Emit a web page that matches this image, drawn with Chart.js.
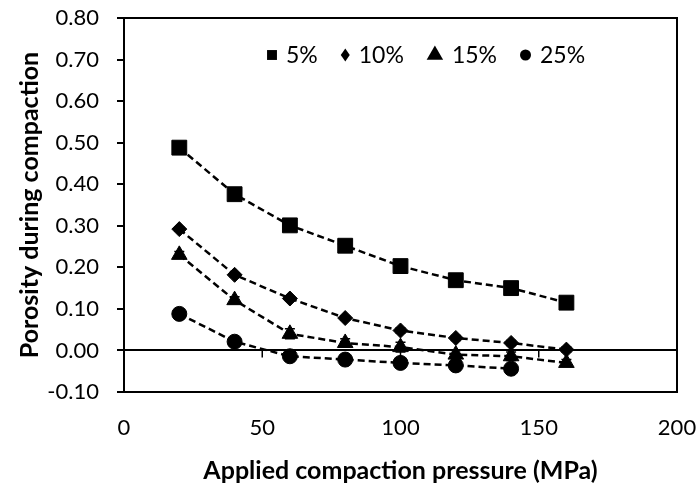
<!DOCTYPE html>
<html>
<head>
<meta charset="utf-8">
<script src="https://cdn.jsdelivr.net/npm/chart.js@4.4.0/dist/chart.umd.min.js"></script>
<style>
  html, body { margin: 0; padding: 0; background: #fff; }
</style>
</head>
<body>
<canvas id="porosityChart" width="699" height="486"></canvas>
<script>
// data
const pressure = [20, 40, 60, 80, 100, 120, 140, 160];
const porosity5 = [0.488, 0.376, 0.301, 0.252, 0.203, 0.169, 0.150, 0.115];
const porosity10 = [0.292, 0.182, 0.125, 0.078, 0.048, 0.030, 0.018, 0.002];
const porosity15 = [0.230, 0.121, 0.040, 0.018, 0.008, -0.010, -0.014, -0.030];
const porosity25 = [0.088, 0.021, -0.014, -0.022, -0.030, -0.036, -0.044];
const error5 = [0.004, 0.004, 0.004, 0.004, 0.004, 0.004, 0.004, 0.004];
const error10 = [0.005, 0.005, 0.005, 0.005, 0.006, 0.006, 0.006, 0.006];
const error15 = [0.008, 0.008, 0.012, 0.010, 0.012, 0.010, 0.010, 0.008];
const error25 = [0.004, 0.004, 0.004, 0.004, 0.004, 0.006, 0.006];
const seriesLabels = ['5%', '10%', '15%', '25%'];
const xMin = 0, xMax = 200, xStep = 50;
const yMin = -0.10, yMax = 0.80, yStep = 0.10;

const FONT = 'Lato';
Chart.defaults.font.family = FONT;
Chart.defaults.color = '#000';

const toPoints = (values) => values.map((v, i) => ({ x: pressure[i], y: v }));

const makeSeries = (label, values, errors, style, radius, legend) => ({
  label: label,
  data: toPoints(values),
  errors: errors,
  legendMarker: legend,
  borderColor: '#000',
  borderWidth: 2.5,
  borderDash: [7, 4],
  backgroundColor: '#000',
  pointStyle: style,
  pointRadius: radius,
  pointHoverRadius: radius,
  pointBackgroundColor: '#000',
  pointBorderColor: '#000',
  pointBorderWidth: 1,
  tension: 0,
  fill: false,
});

// little markers; w is the legend width for diamonds
function drawMarker(ctx, style, radius, x, y, w) {
  const opts = { pointStyle: style, radius: radius, rotation: 0, borderWidth: 0 };
  ctx.save();
  ctx.fillStyle = '#000';
  ctx.strokeStyle = '#000';
  ctx.lineWidth = 0.5;
  if (Chart.helpers && Chart.helpers.drawPointLegend) {
    Chart.helpers.drawPointLegend(ctx, opts, x, y, w);
  }
  ctx.restore();
}

const errorBars = {
  id: 'errorBars',
  beforeDatasetsDraw(chart) {
    const ctx = chart.ctx;
    const yScale = chart.scales.y;
    ctx.save();
    ctx.strokeStyle = '#000';
    ctx.lineWidth = 1.5;
    chart.data.datasets.forEach((ds, di) => {
      const meta = chart.getDatasetMeta(di);
      meta.data.forEach((pt, i) => {
        const e = ds.errors[i];
        if (!e) return;
        const v = ds.data[i].y;
        const top = yScale.getPixelForValue(v + e);
        const bot = yScale.getPixelForValue(v - e);
        ctx.beginPath();
        ctx.moveTo(pt.x, top); ctx.lineTo(pt.x, bot);
        ctx.moveTo(pt.x - 5, top); ctx.lineTo(pt.x + 5, top);
        ctx.moveTo(pt.x - 5, bot); ctx.lineTo(pt.x + 5, bot);
        ctx.stroke();
      });
    });
    ctx.restore();
  }
};

const frameAndLegend = {
  id: 'frameAndLegend',
  afterDraw(chart) {
    const ctx = chart.ctx;
    const area = chart.chartArea;
    const xScale = chart.scales.x;
    const yScale = chart.scales.y;
    ctx.save();
    // box around the plot
    ctx.strokeStyle = '#000';
    ctx.lineWidth = 2;
    ctx.strokeRect(area.left, area.top, area.right - area.left, area.bottom - area.top);
    // tick marks hanging below the zero line
    const y0 = yScale.getPixelForValue(0);
    ctx.lineWidth = 1.5;
    xScale.ticks.forEach(t => {
      const px = xScale.getPixelForValue(t.value);
      ctx.beginPath();
      ctx.moveTo(px, y0);
      ctx.lineTo(px, y0 + 7);
      ctx.stroke();
    });
    // legend inside the plot
    ctx.font = '23px ' + FONT;
    ctx.textBaseline = 'middle';
    ctx.fillStyle = '#000';
    let cursor = area.left + 143;
    const ly = area.top + 37;
    chart.data.datasets.forEach(ds => {
      const m = ds.legendMarker;
      drawMarker(ctx, ds.pointStyle, m.r, cursor + m.hw, ly, m.w);
      const tx = cursor + 2 * m.hw + 9;
      ctx.fillText(ds.label, tx, ly + 1);
      cursor = tx + ctx.measureText(ds.label).width + 23;
    });
    ctx.restore();
  }
};

new Chart(document.getElementById('porosityChart'), {
  type: 'line',
  data: {
    datasets: [
      makeSeries(seriesLabels[0], porosity5, error5, 'rect', 10.5, { r: 7, hw: 5 }),
      makeSeries(seriesLabels[1], porosity10, error10, 'rectRot', 7.5, { r: 6.5, hw: 4.5, w: 9 }),
      makeSeries(seriesLabels[2], porosity15, error15, 'triangle', 9, { r: 9.5, hw: 8 }),
      makeSeries(seriesLabels[3], porosity25, error25, 'circle', 7.5, { r: 5.5, hw: 5.5 }),
    ],
  },
  options: {
    responsive: false,
    animation: false,
    layout: { autoPadding: false, padding: { top: 18, right: 22, left: 0, bottom: 0 } },
    plugins: {
      legend: { display: false },
      tooltip: { enabled: false },
    },
    scales: {
      x: {
        type: 'linear',
        min: xMin,
        max: xMax,
        ticks: { stepSize: xStep, padding: 23, maxRotation: 0, color: '#000', font: { size: 22 } },
        grid: { display: false, drawTicks: false },
        border: { display: true, color: '#000', width: 2 },
        title: {
          display: true,
          text: 'Applied compaction pressure (MPa)',
          color: '#000',
          font: { size: 25, weight: 'bold' },
          padding: { top: 0, bottom: 0 },
        },
        afterFit: (scale) => {
          scale.height = 94;
          scale.paddingLeft = 0;
          scale.paddingRight = 0;
        },
      },
      y: {
        min: yMin,
        max: yMax,
        ticks: {
          stepSize: yStep,
          padding: 18,
          color: '#000',
          font: { size: 22 },
          callback: (v) => (Math.abs(v) < 1e-9 ? '0.00' : Number(v).toFixed(2)),
        },
        grid: {
          color: (c) => (c.tick && Math.abs(c.tick.value) < 1e-9 ? '#000' : 'rgba(0,0,0,0)'),
          lineWidth: 2,
          tickColor: '#000',
          tickLength: 7,
          tickWidth: 2,
        },
        border: { display: true, color: '#000', width: 2 },
        title: {
          display: true,
          text: 'Porosity during compaction',
          color: '#000',
          font: { size: 25, weight: 'bold' },
          padding: { top: 15, bottom: 0 },
        },
        afterFit: (scale) => {
          scale.width = 124;
          scale.paddingTop = 0;
          scale.paddingBottom = 0;
        },
      },
    },
  },
  plugins: [errorBars, frameAndLegend],
});
</script>
</body>
</html>
